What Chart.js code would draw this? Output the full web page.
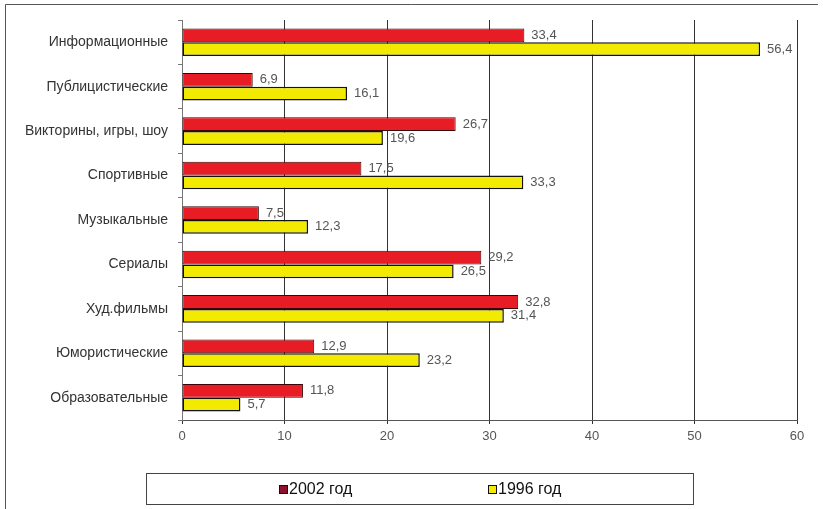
<!DOCTYPE html>
<html><head><meta charset="utf-8">
<script src="https://cdn.jsdelivr.net/npm/chart.js@4"></script>
<style>html,body{margin:0;padding:0;background:#fff}</style>
</head>
<body>
<canvas id="c" width="823" height="509" style="width:823px;height:509px;display:block"></canvas>
<script>
const categories = ['Информационные','Публицистические','Викторины, игры, шоу','Спортивные','Музыкальные','Сериалы','Худ.фильмы','Юмористические','Образовательные'];
const series2002 = [33.4, 6.9, 26.7, 17.5, 7.5, 29.2, 32.8, 12.9, 11.8];
const series1996 = [56.4, 16.1, 19.6, 33.3, 12.3, 26.5, 31.4, 23.2, 5.7];
const seriesNames = ['2002 год', '1996 год'];
const xTicks = [0, 10, 20, 30, 40, 50, 60];

const FONT = "'Liberation Sans', Arial, sans-serif";

const framePlugin = {
  id: 'frame',
  beforeDraw(chart) {
    const ctx = chart.ctx;
    ctx.save();
    ctx.fillStyle = '#fff';
    ctx.fillRect(0, 0, chart.width, chart.height);
    ctx.strokeStyle = '#555';
    ctx.lineWidth = 1;
    ctx.beginPath();
    ctx.moveTo(5.5, 509);
    ctx.lineTo(5.5, 4.5);
    ctx.lineTo(818, 4.5);
    ctx.stroke();
    ctx.restore();
  }
};

const labelPlugin = {
  id: 'vals',
  afterDatasetsDraw(chart) {
    const ctx = chart.ctx;
    ctx.save();
    ctx.font = '13px ' + FONT;
    ctx.fillStyle = '#555';
    ctx.textBaseline = 'middle';
    ctx.textAlign = 'left';
    chart.data.datasets.forEach((ds, i) => {
      const meta = chart.getDatasetMeta(i);
      meta.data.forEach((el, j) => {
        const v = ds.data[j];
        ctx.fillText(v.toFixed(1).replace('.', ','), el.x + 7, el.y);
      });
    });
    ctx.restore();
  }
};

const legendPlugin = {
  id: 'boxLegend',
  afterDraw(chart) {
    const ctx = chart.ctx;
    ctx.save();
    ctx.strokeStyle = '#444';
    ctx.lineWidth = 1;
    ctx.strokeRect(146.5, 473.5, 547, 31);
    const xs = [279, 488];
    const fills = ['#8c1230', '#f2ea00'];
    ctx.font = '16px ' + FONT;
    ctx.textBaseline = 'middle';
    chart.data.datasets.forEach((ds, i) => {
      const x = xs[i];
      ctx.fillStyle = fills[i];
      ctx.fillRect(x, 485, 9, 9);
      ctx.strokeStyle = '#111';
      ctx.strokeRect(x + 0.5, 485.5, 8, 8);
      ctx.fillStyle = '#111';
      ctx.fillText(ds.label, x + 10, 490);
    });
    ctx.restore();
  }
};

new Chart(document.getElementById('c'), {
  type: 'bar',
  data: {
    labels: categories,
    datasets: [
      { label: seriesNames[0], data: series2002, backgroundColor: '#e81c24', borderColor: '#3a0508', borderWidth: 1, borderSkipped: false },
      { label: seriesNames[1], data: series1996, backgroundColor: '#f2ea00', borderColor: '#111', borderWidth: 1.5, borderSkipped: false }
    ]
  },
  options: {
    indexAxis: 'y',
    responsive: false,
    animation: false,
    devicePixelRatio: 1,
    layout: { padding: { left: 0, right: 26, top: 20, bottom: 0 } },
    datasets: { bar: { categoryPercentage: 0.62, barPercentage: 1.0 } },
    plugins: { legend: { display: false }, tooltip: { enabled: false } },
    scales: {
      x: {
        min: 0, max: 60,
        afterBuildTicks(scale) { scale.ticks = xTicks.map(v => ({ value: v })); },
        afterFit(scale) { scale.height = 89; },
        grid: { color: '#333', lineWidth: 1, tickLength: 4, drawTicks: true },
        border: { color: '#555' },
        ticks: { font: { family: FONT, size: 13 }, color: '#555', padding: 5 }
      },
      y: {
        afterFit(scale) { scale.width = 182; },
        grid: { drawOnChartArea: false, drawTicks: true, tickLength: 4, color: '#777', offset: true },
        border: { color: '#777' },
        ticks: { font: { family: FONT, size: 14 }, color: '#333', padding: 10 }
      }
    }
  },
  plugins: [framePlugin, labelPlugin, legendPlugin]
});
</script>
</body></html>
